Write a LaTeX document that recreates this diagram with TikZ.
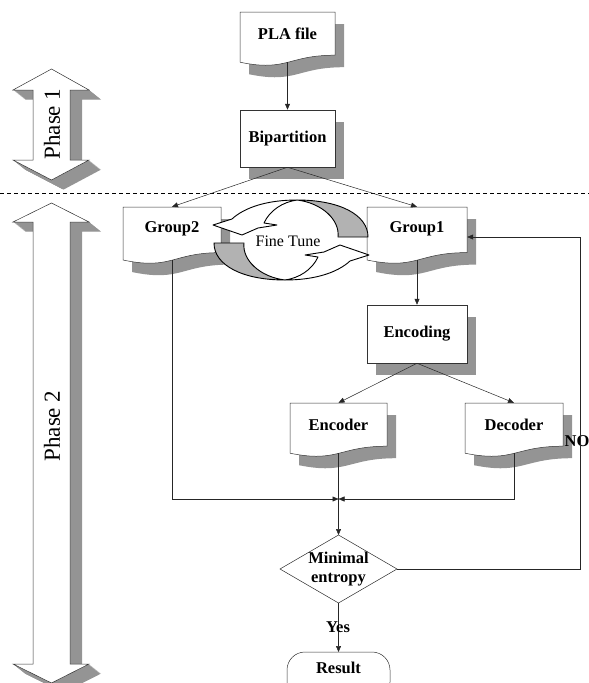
\documentclass[tikz,border=0pt]{standalone}
\usepackage{fontspec}
\setmainfont{Liberation Serif}
\usetikzlibrary{arrows.meta,calc}
\newcommand\docpath[4]{({#1},{#2}) -- ({#3},{#2}) -- ({#3},{#2+0.8*#4}) .. controls ({(#1+#3)/2},{#2+0.8*#4}) and ({(#1+#3)/2},{#2+1.11*#4}) .. ({#1},{#2+0.93*#4}) -- cycle}
\newcommand\phasepath[4]{(51.5,#1) -- (89,#2) -- (70,#2) -- (70,#3) -- (89,#3) -- (51.5,#4) -- (13,#3) -- (33,#3) -- (33,#2) -- (13,#2) -- cycle}
\begin{document}
\begin{tikzpicture}[x=1pt,y=-1pt,
  lbl/.style={font=\bfseries\fontsize{16.5}{19}\selectfont, inner sep=0pt, align=center},
  shapeline/.style={draw=black!80, line width=0.5pt, fill=white},
  shadowfill/.style={fill=black!42},
  conn/.style={draw=black!85, line width=0.5pt},
  arr/.style={conn, -{Triangle[length=6pt,width=5pt]}},
  ftline/.style={draw=black, line width=0.9pt, line join=round},
  phasefont/.style={font=\fontsize{23}{23}\selectfont, inner sep=0pt},
]
\clip (0,0) rectangle (589,683);
\useasboundingbox (0,0) rectangle (589,683);

% ---------- phase arrows ----------
\foreach \s in {0.5,1,...,12} \fill[shadowfill, shift={(\s,{0.8*\s})}] \phasepath{69}{90}{160}{180};
\draw[shapeline] \phasepath{69}{90}{160}{180};
\node[phasefont, rotate=90] (p1) at (52,124) {Phase 1};

\foreach \s in {0.5,1,...,12} \fill[shadowfill, shift={(\s,{0.8*\s})}] \phasepath{203}{222}{664}{683};
\draw[shapeline] \phasepath{203}{222}{664}{683};
\node[phasefont, rotate=90] (p2) at (52,426) {Phase 2};

% ---------- dashed separator ----------
\coordinate (dl) at (0,193);
\coordinate (dr) at (589,193);
\draw[black, line width=0.8pt, dash pattern=on 4pt off 3pt] (dl) -- (dr);

% ---------- PLA file ----------
\fill[shadowfill, shift={(9,12)}] \docpath{240}{12}{335}{54};
\draw[shapeline] \docpath{240}{12}{335}{54};
\node[lbl, minimum width=95pt, minimum height=44pt] (pla) at (287.5,34) {PLA file};
\coordinate (plab) at (287.5,62.3);

% ---------- Bipartition ----------
\fill[shadowfill] (249,122) rectangle (344,179);
\node[lbl, shapeline, minimum width=95pt, minimum height=57pt] (bip) at (287.5,138.5) {Bipartition};

% ---------- Group2 / Group1 ----------
\fill[shadowfill, shift={(9,12)}] \docpath{123}{207}{221}{57};
\draw[shapeline] \docpath{123}{207}{221}{57};
\node[lbl, minimum width=98pt, minimum height=44pt] (g2) at (172,229) {Group2};
\coordinate (g2b) at (172,260.1);

\fill[shadowfill, shift={(9,12)}] \docpath{367}{207}{467}{57};
\draw[shapeline] \docpath{367}{207}{467}{57};
\node[lbl, minimum width=100pt, minimum height=44pt] (g1) at (417,229) {Group1};
\coordinate (g1b) at (417,260.1);

% ---------- Encoding ----------
\fill[shadowfill] (376,317) rectangle (476,375);
\node[lbl, shapeline, minimum width=100pt, minimum height=58pt] (enc) at (417,334) {Encoding};

% ---------- Encoder / Decoder ----------
\fill[shadowfill, shift={(9,12)}] \docpath{290}{403}{387}{54};
\draw[shapeline] \docpath{290}{403}{387}{54};
\node[lbl, minimum width=97pt, minimum height=44pt] (encd) at (338.5,425) {Encoder};
\coordinate (encb) at (338.5,453.3);

\fill[shadowfill, shift={(9,12)}] \docpath{465}{403}{563}{54};
\draw[shapeline] \docpath{465}{403}{563}{54};
\node[lbl, minimum width=98pt, minimum height=44pt] (decd) at (514,425) {Decoder};
\coordinate (decb) at (514,453.3);

% ---------- Minimal entropy diamond ----------
\coordinate (diaN) at (338.5,535);
\coordinate (diaS) at (338.5,603);
\coordinate (diaE) at (397,569);
\coordinate (diaW) at (280,569);
\fill[shadowfill, shift={(10,11)}] (diaN) -- (diaE) -- (diaS) -- (diaW) -- cycle;
\draw[shapeline] (diaN) -- (diaE) -- (diaS) -- (diaW) -- cycle;
\node[lbl] (dia) at (338.5,569) {Minimal\\entropy};

% ---------- Result ----------
\coordinate (resN) at (338.5,652);
\draw[draw=black!80, line width=0.5pt, fill=white, rounded corners=18pt] (287,652) rectangle (390,700);
\node[lbl] (res) at (338.5,668) {Result};

% ---------- connectors ----------
\draw[arr] (plab) -- (bip);
\draw[arr] (bip.south) -- (g2.north);
\draw[arr] (bip.south) -- (g1.north);
\draw[arr] (g1b) -- (enc);
\draw[arr] (enc.south) -- (encd.north);
\draw[arr] (enc.south) -- (decd.north);
\coordinate (mrg) at (338.5,499);
\draw[arr] (g2b) |- (mrg);
\draw[arr] (decb) |- (mrg);
\draw[conn] (encb) -- (mrg);
\draw[arr] (mrg) -- (diaN);
\draw[arr] (diaS) -- (resN);
\node[lbl] (yes) at (338,627) {Yes};
\node[lbl] (no) at (577,441) {NO};
\coordinate (loopc) at (580,569);
\draw[arr] (diaE) -- (loopc) |- ([yshift=-8pt]g1.east);

% ---------- Fine Tune ----------
\draw[ftline, fill=black!30] (368,237) .. controls (368,215) and (340,200) .. (297,200)
   .. controls (322,203) and (340,220) .. (338,237) -- cycle;
\draw[ftline, fill=white] (297,200) .. controls (268,200) and (245,207) .. (232,219)
   -- (213,225) -- (242,235) -- (258,228) -- (277,225) -- (264,223)
   .. controls (270,210) and (283,202) .. (297,200) -- cycle;
\draw[ftline, fill=black!30] (214,243) .. controls (214,265) and (242,280) .. (285,280)
   .. controls (260,277) and (242,260) .. (244,243) -- cycle;
\draw[ftline, fill=white] (285,280) .. controls (314,280) and (337,273) .. (350,261)
   -- (369,255) -- (340,245) -- (324,252) -- (305,255) -- (318,257)
   .. controls (312,270) and (299,278) .. (285,280) -- cycle;
\node[font=\fontsize{16}{16}\selectfont, inner sep=0pt] (ft) at (288,241) {Fine Tune};
\end{tikzpicture}
\end{document}
